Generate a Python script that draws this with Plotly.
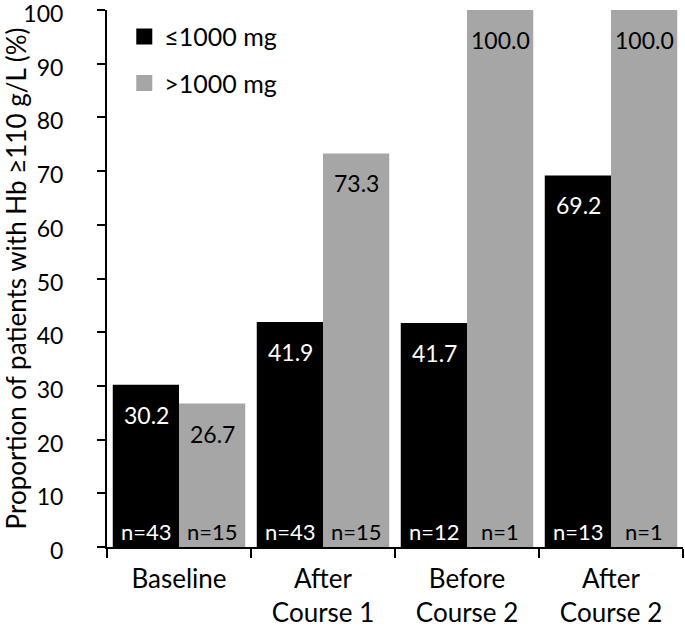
import plotly.graph_objects as go

categories = ["Baseline", "After<br>Course 1", "Before<br>Course 2", "After<br>Course 2"]
low_dose = [30.2, 41.9, 41.7, 69.2]
high_dose = [26.7, 73.3, 100.0, 100.0]
n_low = [43, 43, 12, 13]
n_high = [15, 15, 1, 1]
series_names = ["≤1000 mg", ">1000 mg"]
y_ticks = [0, 10, 20, 30, 40, 50, 60, 70, 80, 90, 100]
colors = ["#000000", "#A6A6A6"]
text_colors = ["white", "black"]

FONT = "Lato"
fig = go.Figure()
for vals, name, col in [(low_dose, series_names[0], colors[0]), (high_dose, series_names[1], colors[1])]:
    fig.add_trace(go.Bar(
        x=categories, y=vals, name=name,
        marker=dict(color=col, line=dict(width=0)),
        showlegend=False, hoverinfo="x+y",
    ))
# legend entries (square markers)
for i, (name, col) in enumerate(zip(series_names, colors)):
    fig.add_trace(go.Scatter(
        x=[None], y=[None], mode="markers", name=name,
        marker=dict(symbol="square", size=17, color=col),
        legendgroup=f"g{i}", showlegend=True,
    ))

annotations = []
for i, c in enumerate(categories):
    for vals, ns, shift, tcol in [(low_dose, n_low, -33, text_colors[0]),
                                  (high_dose, n_high, 33, text_colors[1])]:
        annotations.append(dict(x=c, y=vals[i], xref="x", yref="y", text=f"{vals[i]:.1f}",
                                showarrow=False, xshift=shift, yshift=-30, yanchor="middle",
                                font=dict(color=tcol, size=23, family=FONT)))
        annotations.append(dict(x=c, y=0, xref="x", yref="y", text=f"n={ns[i]}",
                                showarrow=False, xshift=shift, yshift=16, yanchor="middle",
                                font=dict(color=tcol, size=22, family=FONT)))

fig.update_layout(
    width=685, height=629,
    margin=dict(l=107, r=2, t=10, b=82, autoexpand=False),
    paper_bgcolor="white", plot_bgcolor="white",
    barmode="group", bargap=0.08, bargroupgap=0,
    font=dict(family=FONT, size=22, color="black"),
    legend=dict(x=0.03, y=0.993, xanchor="left", yanchor="top",
                bgcolor="rgba(0,0,0,0)", font=dict(size=25, family=FONT),
                tracegroupgap=11, itemsizing="trace"),
    annotations=annotations,
    xaxis=dict(showline=True, linecolor="black", linewidth=2,
               ticks="outside", ticklen=9, tickwidth=2, tickcolor="black",
               tickson="boundaries", tickfont=dict(size=26, family=FONT),
               ticklabelstandoff=8, showgrid=False, automargin=False),
    yaxis=dict(range=[0, 100], tickvals=y_ticks,
               showline=True, linecolor="black", linewidth=2,
               ticks="outside", ticklen=8, tickwidth=2, tickcolor="black",
               ticklabelstandoff=29, ticklabelshift=4, ticklabeloverflow="allow",
               tickfont=dict(size=23, family=FONT),
               showgrid=False, zeroline=False, automargin=False,
               title=dict(text="Proportion of patients with Hb ≥110 g/L (%)",
                          font=dict(size=26, family=FONT), standoff=0)),
)
fig.write_html("out.html", config={"displayModeBar": False},
               post_script="document.body.style.margin='0';")
